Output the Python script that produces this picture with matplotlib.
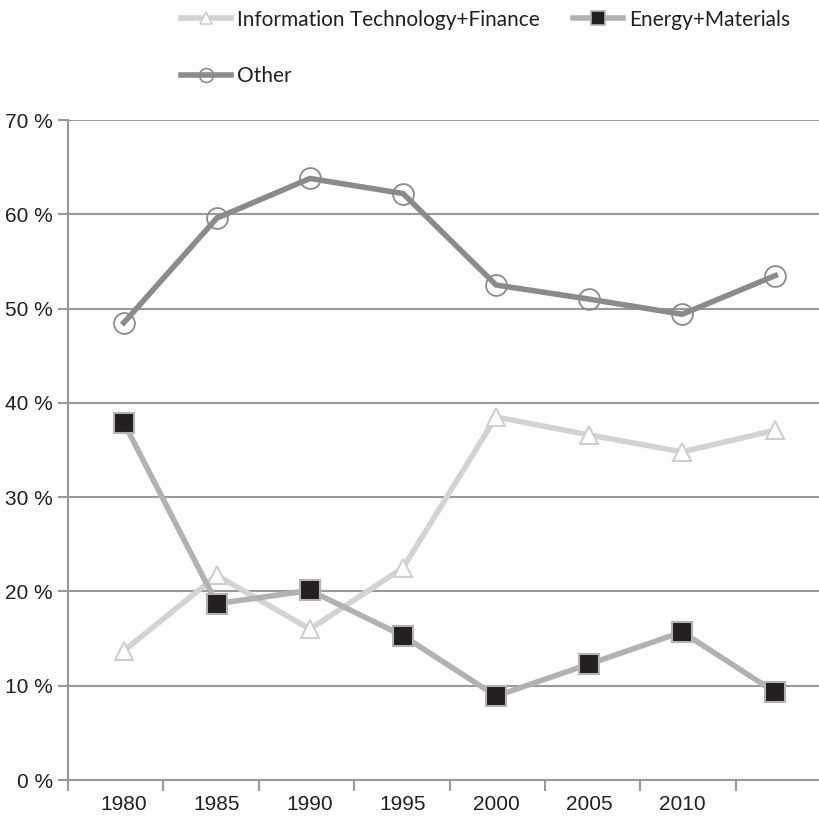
import matplotlib
matplotlib.use("Agg")
import matplotlib.pyplot as plt
from matplotlib.lines import Line2D
import numpy as np

categories = ["1980", "1985", "1990", "1995", "2000", "2005", "2010", ""]
it_finance = [13.7, 21.7, 16.0, 22.5, 38.5, 36.6, 34.8, 37.1]
energy_materials = [37.9, 18.7, 20.1, 15.3, 8.9, 12.3, 15.7, 9.3]
other = [48.5, 59.6, 63.8, 62.2, 52.5, 51.0, 49.4, 53.5]
y_ticks = [0, 10, 20, 30, 40, 50, 60, 70]
y_labels = [f"{v} %" for v in y_ticks]

tick_font = "Liberation Sans"
leg_font = "Lato"

fig = plt.figure(figsize=(8.19, 8.17), dpi=100)
ax = fig.add_axes([68/819, 37/817, 1 - 68/819, (780-120)/817])

x = list(range(len(categories)))
c_other = "#8b8b8d"
c_it = "#d3d3d3"
c_en = "#b2b2b2"

ax.plot(x, it_finance, color=c_it, lw=4, marker="^", ms=13, mfc="white", mec="#cfcfcf", mew=1.5, zorder=3)
ax.plot(x, energy_materials, color=c_en, lw=4, marker="s", ms=15, mfc="#231f20", mec="#b2b2b2", mew=1.5, zorder=4)
ax.plot(x, other, color=c_other, lw=4, marker="o", ms=15, mfc="none", mec="#8b8b8d", mew=1.3, zorder=5)

ax.set_ylim(0, 70)
ax.set_xlim(-0.6, 7.47)
ax.set_yticks(y_ticks)
ax.set_yticklabels(y_labels, fontfamily=tick_font, fontsize=15, color="#231f20")
ax.set_xticks(x)
ax.set_xticklabels(categories, fontfamily=tick_font, fontsize=15, color="#231f20")
ax.tick_params(axis="x", which="major", length=0, pad=11)
ax.set_xticks(np.linspace(-0.6, 6.575, 8), minor=True)
ax.tick_params(axis="x", which="minor", length=8, color="#999999", width=1.5)
ax.tick_params(axis="y", length=7, color="#999999", width=1.5, pad=4)
ax.grid(axis="y", color="#9a9a9a", lw=1.5)
ax.set_axisbelow(True)
for s in ["top", "right"]:
    ax.spines[s].set_visible(False)
for s in ["left", "bottom"]:
    ax.spines[s].set_color("#999999")
    ax.spines[s].set_linewidth(1.5)

h_it = Line2D([], [], color=c_it, lw=4, marker="^", ms=9, mfc="white", mec="#cfcfcf", mew=1.2)
h_en = Line2D([], [], color=c_en, lw=4, marker="s", ms=10, mfc="#231f20", mec="#b2b2b2", mew=1.2)
h_ot = Line2D([], [], color=c_other, lw=4, marker="o", ms=10, mfc="none", mec="#8b8b8d", mew=1.2)
leg = fig.legend([h_it, h_ot, h_en], ["Information Technology+Finance", "Other", "Energy+Materials"],
                 ncol=2, loc="upper left", bbox_to_anchor=(162/819, 1.011), frameon=False,
                 prop={"family": leg_font, "size": 15}, handlelength=2.4, handletextpad=0.3,
                 labelspacing=1.75, columnspacing=1.6)
for t in leg.get_texts():
    t.set_color("#231f20")

fig.savefig("out.png", dpi=100)
